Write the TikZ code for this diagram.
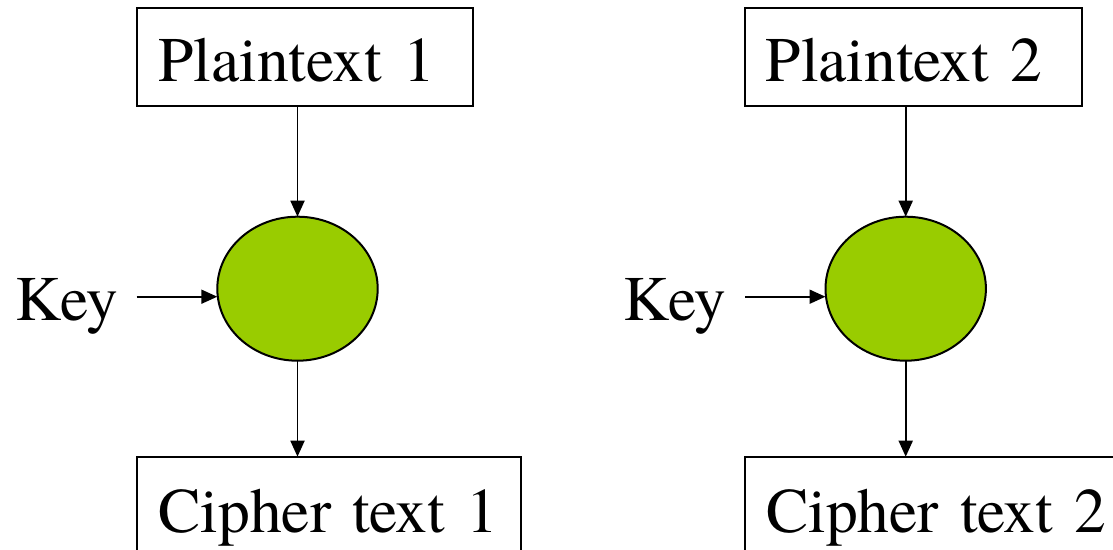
\documentclass[tikz,border=0pt]{standalone}
\usepackage{fontspec}
\newfontfamily\diagramfont{texgyretermes-regular.otf}
\usetikzlibrary{shapes.geometric,arrows.meta}
\definecolor{cipherGreen}{HTML}{99CC00}
\tikzset{
  labelfont/.style={font=\diagramfont\fontsize{63.5pt}{75pt}\selectfont},
  textbox/.style={draw, line width=1.8pt, labelfont, anchor=north west,
    inner xsep=21pt, inner ysep=0pt, outer sep=0pt, align=left},
  cipherdisk/.style={ellipse, draw, line width=2pt, fill=cipherGreen,
    inner sep=0pt, outer sep=0pt, minimum width=160.4pt, minimum height=144pt},
  keylabel/.style={labelfont, anchor=east, inner xsep=18.5pt, inner ysep=0pt,
    outer sep=0pt, text height=60.6pt, text depth=14pt},
  flow/.style={line width=1.8pt, -{Triangle[length=16pt,width=14pt]}}
}
\begin{document}
\begin{tikzpicture}[x=1pt,y=-1pt]
  \useasboundingbox (0,0) rectangle (1113,549);

  % left encryption
  \node[textbox, text width=294pt, text height=72.7pt, text depth=25pt]
    (p1) at (137.3,8.3) {Plaintext 1};
  \node[cipherdisk] (c1) at (297.5,288.7) {};
  \node[keylabel] (k1) at (136.7,296.7) {Key};
  \node[textbox, text width=342pt, text height=75.3pt, text depth=40pt]
    (x1) at (137.3,456.7) {Cipher text 1};

  % right encryption
  \node[textbox, text width=295pt, text height=72.7pt, text depth=25pt]
    (p2) at (744.7,8.3) {Plaintext 2};
  \node[cipherdisk] (c2) at (905.7,288.7) {};
  \node[keylabel] (k2) at (745,296.7) {Key};
  \node[textbox, text width=360pt, text height=75.3pt, text depth=40pt]
    (x2) at (745,456.7) {Cipher text 2};

  % connectors
  \foreach \i in {1,2} {
    \draw[flow] (p\i.south -| c\i.north) -- (c\i.north);
    \draw[flow] (k\i.east) -- (k\i.east -| c\i.west);
    \draw[flow] (c\i.south) -- (c\i.south |- x\i.north);
  }
\end{tikzpicture}
\end{document}
